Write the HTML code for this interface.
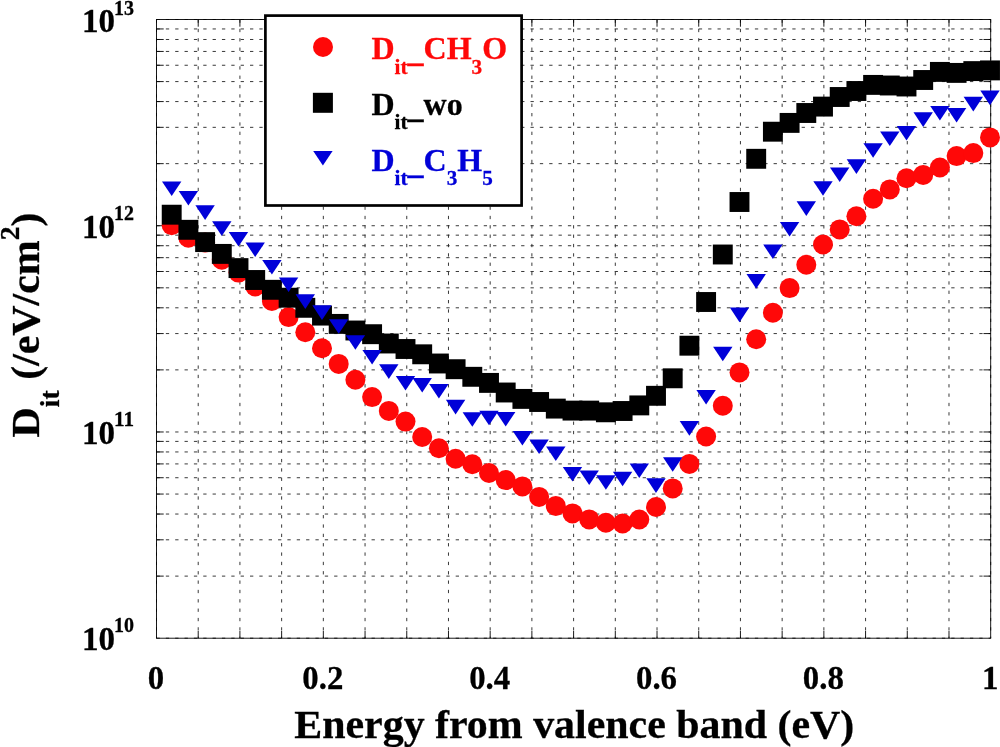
<!DOCTYPE html>
<html lang="en"><head><meta charset="utf-8"><title>Dit vs energy from valence band</title>
<style>html,body{margin:0;padding:0;background:#fff}body{width:1000px;height:747px;overflow:hidden}svg{display:block}text{font-family:"Liberation Serif",serif;font-weight:bold}</style>
</head><body>
<svg width="1000" height="747" viewBox="0 0 1000 747">
<rect x="0" y="0" width="1000" height="747" fill="#fff"/>
<g stroke="#222" stroke-width="0.9" stroke-dasharray="3.3 6.05" fill="none">
<line x1="156.50" y1="19.5" x2="156.50" y2="638.2"/>
<line x1="198.21" y1="19.5" x2="198.21" y2="638.2"/>
<line x1="239.92" y1="19.5" x2="239.92" y2="638.2"/>
<line x1="281.63" y1="19.5" x2="281.63" y2="638.2"/>
<line x1="323.34" y1="19.5" x2="323.34" y2="638.2"/>
<line x1="365.05" y1="19.5" x2="365.05" y2="638.2"/>
<line x1="406.76" y1="19.5" x2="406.76" y2="638.2"/>
<line x1="448.47" y1="19.5" x2="448.47" y2="638.2"/>
<line x1="490.18" y1="19.5" x2="490.18" y2="638.2"/>
<line x1="531.89" y1="19.5" x2="531.89" y2="638.2"/>
<line x1="573.60" y1="19.5" x2="573.60" y2="638.2"/>
<line x1="615.31" y1="19.5" x2="615.31" y2="638.2"/>
<line x1="657.02" y1="19.5" x2="657.02" y2="638.2"/>
<line x1="698.73" y1="19.5" x2="698.73" y2="638.2"/>
<line x1="740.44" y1="19.5" x2="740.44" y2="638.2"/>
<line x1="782.15" y1="19.5" x2="782.15" y2="638.2"/>
<line x1="823.86" y1="19.5" x2="823.86" y2="638.2"/>
<line x1="865.57" y1="19.5" x2="865.57" y2="638.2"/>
<line x1="907.28" y1="19.5" x2="907.28" y2="638.2"/>
<line x1="948.99" y1="19.5" x2="948.99" y2="638.2"/>
<line x1="990.70" y1="19.5" x2="990.70" y2="638.2"/>
<line x1="156.5" y1="638.20" x2="990.7" y2="638.20"/>
<line x1="156.5" y1="576.12" x2="990.7" y2="576.12"/>
<line x1="156.5" y1="539.80" x2="990.7" y2="539.80"/>
<line x1="156.5" y1="514.04" x2="990.7" y2="514.04"/>
<line x1="156.5" y1="494.05" x2="990.7" y2="494.05"/>
<line x1="156.5" y1="477.72" x2="990.7" y2="477.72"/>
<line x1="156.5" y1="463.91" x2="990.7" y2="463.91"/>
<line x1="156.5" y1="451.95" x2="990.7" y2="451.95"/>
<line x1="156.5" y1="441.40" x2="990.7" y2="441.40"/>
<line x1="156.5" y1="431.97" x2="990.7" y2="431.97"/>
<line x1="156.5" y1="369.88" x2="990.7" y2="369.88"/>
<line x1="156.5" y1="333.57" x2="990.7" y2="333.57"/>
<line x1="156.5" y1="307.80" x2="990.7" y2="307.80"/>
<line x1="156.5" y1="287.82" x2="990.7" y2="287.82"/>
<line x1="156.5" y1="271.49" x2="990.7" y2="271.49"/>
<line x1="156.5" y1="257.68" x2="990.7" y2="257.68"/>
<line x1="156.5" y1="245.72" x2="990.7" y2="245.72"/>
<line x1="156.5" y1="235.17" x2="990.7" y2="235.17"/>
<line x1="156.5" y1="225.73" x2="990.7" y2="225.73"/>
<line x1="156.5" y1="163.65" x2="990.7" y2="163.65"/>
<line x1="156.5" y1="127.34" x2="990.7" y2="127.34"/>
<line x1="156.5" y1="101.57" x2="990.7" y2="101.57"/>
<line x1="156.5" y1="81.58" x2="990.7" y2="81.58"/>
<line x1="156.5" y1="65.25" x2="990.7" y2="65.25"/>
<line x1="156.5" y1="51.45" x2="990.7" y2="51.45"/>
<line x1="156.5" y1="39.49" x2="990.7" y2="39.49"/>
<line x1="156.5" y1="28.94" x2="990.7" y2="28.94"/>
<line x1="156.5" y1="19.5" x2="990.7" y2="19.5"/>
</g>
<g stroke="#000" stroke-width="0.9" fill="none">
<rect x="156.5" y="19.5" width="834.20" height="618.70"/>
<line x1="198.21" y1="638.2" x2="198.21" y2="631.0"/>
<line x1="198.21" y1="19.5" x2="198.21" y2="26.7"/>
<line x1="239.92" y1="638.2" x2="239.92" y2="631.0"/>
<line x1="239.92" y1="19.5" x2="239.92" y2="26.7"/>
<line x1="281.63" y1="638.2" x2="281.63" y2="631.0"/>
<line x1="281.63" y1="19.5" x2="281.63" y2="26.7"/>
<line x1="323.34" y1="638.2" x2="323.34" y2="631.0"/>
<line x1="323.34" y1="19.5" x2="323.34" y2="26.7"/>
<line x1="365.05" y1="638.2" x2="365.05" y2="631.0"/>
<line x1="365.05" y1="19.5" x2="365.05" y2="26.7"/>
<line x1="406.76" y1="638.2" x2="406.76" y2="631.0"/>
<line x1="406.76" y1="19.5" x2="406.76" y2="26.7"/>
<line x1="448.47" y1="638.2" x2="448.47" y2="631.0"/>
<line x1="448.47" y1="19.5" x2="448.47" y2="26.7"/>
<line x1="490.18" y1="638.2" x2="490.18" y2="631.0"/>
<line x1="490.18" y1="19.5" x2="490.18" y2="26.7"/>
<line x1="531.89" y1="638.2" x2="531.89" y2="631.0"/>
<line x1="531.89" y1="19.5" x2="531.89" y2="26.7"/>
<line x1="573.60" y1="638.2" x2="573.60" y2="631.0"/>
<line x1="573.60" y1="19.5" x2="573.60" y2="26.7"/>
<line x1="615.31" y1="638.2" x2="615.31" y2="631.0"/>
<line x1="615.31" y1="19.5" x2="615.31" y2="26.7"/>
<line x1="657.02" y1="638.2" x2="657.02" y2="631.0"/>
<line x1="657.02" y1="19.5" x2="657.02" y2="26.7"/>
<line x1="698.73" y1="638.2" x2="698.73" y2="631.0"/>
<line x1="698.73" y1="19.5" x2="698.73" y2="26.7"/>
<line x1="740.44" y1="638.2" x2="740.44" y2="631.0"/>
<line x1="740.44" y1="19.5" x2="740.44" y2="26.7"/>
<line x1="782.15" y1="638.2" x2="782.15" y2="631.0"/>
<line x1="782.15" y1="19.5" x2="782.15" y2="26.7"/>
<line x1="823.86" y1="638.2" x2="823.86" y2="631.0"/>
<line x1="823.86" y1="19.5" x2="823.86" y2="26.7"/>
<line x1="865.57" y1="638.2" x2="865.57" y2="631.0"/>
<line x1="865.57" y1="19.5" x2="865.57" y2="26.7"/>
<line x1="907.28" y1="638.2" x2="907.28" y2="631.0"/>
<line x1="907.28" y1="19.5" x2="907.28" y2="26.7"/>
<line x1="948.99" y1="638.2" x2="948.99" y2="631.0"/>
<line x1="948.99" y1="19.5" x2="948.99" y2="26.7"/>
<line x1="156.5" y1="576.12" x2="163.7" y2="576.12"/>
<line x1="990.7" y1="576.12" x2="983.5" y2="576.12"/>
<line x1="156.5" y1="539.80" x2="163.7" y2="539.80"/>
<line x1="990.7" y1="539.80" x2="983.5" y2="539.80"/>
<line x1="156.5" y1="514.04" x2="163.7" y2="514.04"/>
<line x1="990.7" y1="514.04" x2="983.5" y2="514.04"/>
<line x1="156.5" y1="494.05" x2="163.7" y2="494.05"/>
<line x1="990.7" y1="494.05" x2="983.5" y2="494.05"/>
<line x1="156.5" y1="477.72" x2="163.7" y2="477.72"/>
<line x1="990.7" y1="477.72" x2="983.5" y2="477.72"/>
<line x1="156.5" y1="463.91" x2="163.7" y2="463.91"/>
<line x1="990.7" y1="463.91" x2="983.5" y2="463.91"/>
<line x1="156.5" y1="451.95" x2="163.7" y2="451.95"/>
<line x1="990.7" y1="451.95" x2="983.5" y2="451.95"/>
<line x1="156.5" y1="441.40" x2="163.7" y2="441.40"/>
<line x1="990.7" y1="441.40" x2="983.5" y2="441.40"/>
<line x1="156.5" y1="431.97" x2="163.7" y2="431.97"/>
<line x1="990.7" y1="431.97" x2="983.5" y2="431.97"/>
<line x1="156.5" y1="369.88" x2="163.7" y2="369.88"/>
<line x1="990.7" y1="369.88" x2="983.5" y2="369.88"/>
<line x1="156.5" y1="333.57" x2="163.7" y2="333.57"/>
<line x1="990.7" y1="333.57" x2="983.5" y2="333.57"/>
<line x1="156.5" y1="307.80" x2="163.7" y2="307.80"/>
<line x1="990.7" y1="307.80" x2="983.5" y2="307.80"/>
<line x1="156.5" y1="287.82" x2="163.7" y2="287.82"/>
<line x1="990.7" y1="287.82" x2="983.5" y2="287.82"/>
<line x1="156.5" y1="271.49" x2="163.7" y2="271.49"/>
<line x1="990.7" y1="271.49" x2="983.5" y2="271.49"/>
<line x1="156.5" y1="257.68" x2="163.7" y2="257.68"/>
<line x1="990.7" y1="257.68" x2="983.5" y2="257.68"/>
<line x1="156.5" y1="245.72" x2="163.7" y2="245.72"/>
<line x1="990.7" y1="245.72" x2="983.5" y2="245.72"/>
<line x1="156.5" y1="235.17" x2="163.7" y2="235.17"/>
<line x1="990.7" y1="235.17" x2="983.5" y2="235.17"/>
<line x1="156.5" y1="225.73" x2="163.7" y2="225.73"/>
<line x1="990.7" y1="225.73" x2="983.5" y2="225.73"/>
<line x1="156.5" y1="163.65" x2="163.7" y2="163.65"/>
<line x1="990.7" y1="163.65" x2="983.5" y2="163.65"/>
<line x1="156.5" y1="127.34" x2="163.7" y2="127.34"/>
<line x1="990.7" y1="127.34" x2="983.5" y2="127.34"/>
<line x1="156.5" y1="101.57" x2="163.7" y2="101.57"/>
<line x1="990.7" y1="101.57" x2="983.5" y2="101.57"/>
<line x1="156.5" y1="81.58" x2="163.7" y2="81.58"/>
<line x1="990.7" y1="81.58" x2="983.5" y2="81.58"/>
<line x1="156.5" y1="65.25" x2="163.7" y2="65.25"/>
<line x1="990.7" y1="65.25" x2="983.5" y2="65.25"/>
<line x1="156.5" y1="51.45" x2="163.7" y2="51.45"/>
<line x1="990.7" y1="51.45" x2="983.5" y2="51.45"/>
<line x1="156.5" y1="39.49" x2="163.7" y2="39.49"/>
<line x1="990.7" y1="39.49" x2="983.5" y2="39.49"/>
<line x1="156.5" y1="28.94" x2="163.7" y2="28.94"/>
<line x1="990.7" y1="28.94" x2="983.5" y2="28.94"/>
</g>
<g fill="#ff0808">
<circle cx="171.70" cy="225.20" r="10.0"/>
<circle cx="188.40" cy="237.70" r="10.0"/>
<circle cx="205.10" cy="242.50" r="10.0"/>
<circle cx="221.80" cy="259.70" r="10.0"/>
<circle cx="238.50" cy="272.60" r="10.0"/>
<circle cx="255.20" cy="286.50" r="10.0"/>
<circle cx="271.90" cy="301.00" r="10.0"/>
<circle cx="288.60" cy="317.10" r="10.0"/>
<circle cx="305.30" cy="332.20" r="10.0"/>
<circle cx="322.00" cy="348.30" r="10.0"/>
<circle cx="338.70" cy="363.90" r="10.0"/>
<circle cx="355.40" cy="379.80" r="10.0"/>
<circle cx="372.10" cy="397.10" r="10.0"/>
<circle cx="388.80" cy="410.90" r="10.0"/>
<circle cx="405.50" cy="421.60" r="10.0"/>
<circle cx="422.20" cy="437.00" r="10.0"/>
<circle cx="438.90" cy="448.20" r="10.0"/>
<circle cx="455.60" cy="458.70" r="10.0"/>
<circle cx="472.30" cy="464.30" r="10.0"/>
<circle cx="489.00" cy="473.00" r="10.0"/>
<circle cx="505.70" cy="480.10" r="10.0"/>
<circle cx="522.40" cy="486.40" r="10.0"/>
<circle cx="539.10" cy="496.90" r="10.0"/>
<circle cx="555.80" cy="505.90" r="10.0"/>
<circle cx="572.50" cy="513.40" r="10.0"/>
<circle cx="589.20" cy="519.40" r="10.0"/>
<circle cx="605.90" cy="522.80" r="10.0"/>
<circle cx="622.60" cy="523.50" r="10.0"/>
<circle cx="639.30" cy="519.50" r="10.0"/>
<circle cx="656.00" cy="507.00" r="10.0"/>
<circle cx="672.70" cy="488.40" r="10.0"/>
<circle cx="689.40" cy="463.90" r="10.0"/>
<circle cx="706.10" cy="436.50" r="10.0"/>
<circle cx="722.80" cy="405.80" r="10.0"/>
<circle cx="739.50" cy="372.40" r="10.0"/>
<circle cx="756.20" cy="339.30" r="10.0"/>
<circle cx="772.90" cy="312.80" r="10.0"/>
<circle cx="789.60" cy="288.10" r="10.0"/>
<circle cx="806.30" cy="264.70" r="10.0"/>
<circle cx="823.00" cy="244.50" r="10.0"/>
<circle cx="839.70" cy="229.40" r="10.0"/>
<circle cx="856.40" cy="216.30" r="10.0"/>
<circle cx="873.10" cy="198.70" r="10.0"/>
<circle cx="889.80" cy="189.40" r="10.0"/>
<circle cx="906.50" cy="178.20" r="10.0"/>
<circle cx="923.20" cy="174.90" r="10.0"/>
<circle cx="939.90" cy="167.50" r="10.0"/>
<circle cx="956.60" cy="156.10" r="10.0"/>
<circle cx="973.30" cy="153.10" r="10.0"/>
<circle cx="990.00" cy="137.40" r="10.0"/>
</g>
<g fill="#000">
<rect x="161.75" y="204.75" width="19.9" height="19.9"/>
<rect x="178.45" y="219.85" width="19.9" height="19.9"/>
<rect x="195.15" y="232.15" width="19.9" height="19.9"/>
<rect x="211.85" y="243.95" width="19.9" height="19.9"/>
<rect x="228.55" y="258.15" width="19.9" height="19.9"/>
<rect x="245.25" y="270.05" width="19.9" height="19.9"/>
<rect x="261.95" y="279.85" width="19.9" height="19.9"/>
<rect x="278.65" y="287.75" width="19.9" height="19.9"/>
<rect x="295.35" y="297.85" width="19.9" height="19.9"/>
<rect x="312.05" y="305.65" width="19.9" height="19.9"/>
<rect x="328.75" y="313.95" width="19.9" height="19.9"/>
<rect x="345.45" y="320.55" width="19.9" height="19.9"/>
<rect x="362.15" y="324.25" width="19.9" height="19.9"/>
<rect x="378.85" y="333.55" width="19.9" height="19.9"/>
<rect x="395.55" y="339.05" width="19.9" height="19.9"/>
<rect x="412.25" y="344.35" width="19.9" height="19.9"/>
<rect x="428.95" y="353.55" width="19.9" height="19.9"/>
<rect x="445.65" y="359.25" width="19.9" height="19.9"/>
<rect x="462.35" y="366.85" width="19.9" height="19.9"/>
<rect x="479.05" y="372.95" width="19.9" height="19.9"/>
<rect x="495.75" y="382.55" width="19.9" height="19.9"/>
<rect x="512.45" y="388.95" width="19.9" height="19.9"/>
<rect x="529.15" y="392.05" width="19.9" height="19.9"/>
<rect x="545.85" y="398.65" width="19.9" height="19.9"/>
<rect x="562.55" y="400.65" width="19.9" height="19.9"/>
<rect x="579.25" y="400.65" width="19.9" height="19.9"/>
<rect x="595.95" y="402.35" width="19.9" height="19.9"/>
<rect x="612.65" y="401.05" width="19.9" height="19.9"/>
<rect x="629.35" y="395.45" width="19.9" height="19.9"/>
<rect x="646.05" y="385.85" width="19.9" height="19.9"/>
<rect x="662.75" y="368.35" width="19.9" height="19.9"/>
<rect x="679.45" y="335.75" width="19.9" height="19.9"/>
<rect x="696.15" y="292.05" width="19.9" height="19.9"/>
<rect x="712.85" y="244.55" width="19.9" height="19.9"/>
<rect x="729.55" y="192.05" width="19.9" height="19.9"/>
<rect x="746.25" y="148.85" width="19.9" height="19.9"/>
<rect x="762.95" y="121.75" width="19.9" height="19.9"/>
<rect x="779.65" y="112.95" width="19.9" height="19.9"/>
<rect x="796.35" y="103.05" width="19.9" height="19.9"/>
<rect x="813.05" y="96.65" width="19.9" height="19.9"/>
<rect x="829.75" y="87.05" width="19.9" height="19.9"/>
<rect x="846.45" y="81.05" width="19.9" height="19.9"/>
<rect x="863.15" y="74.95" width="19.9" height="19.9"/>
<rect x="879.85" y="75.55" width="19.9" height="19.9"/>
<rect x="896.55" y="76.55" width="19.9" height="19.9"/>
<rect x="913.25" y="70.05" width="19.9" height="19.9"/>
<rect x="929.95" y="61.95" width="19.9" height="19.9"/>
<rect x="946.65" y="62.95" width="19.9" height="19.9"/>
<rect x="963.35" y="61.15" width="19.9" height="19.9"/>
<rect x="980.05" y="60.45" width="19.9" height="19.9"/>
</g>
<g fill="#0000d8">
<polygon points="162.00,181.40 181.40,181.40 171.70,196.00"/>
<polygon points="178.70,191.00 198.10,191.00 188.40,205.60"/>
<polygon points="195.40,205.30 214.80,205.30 205.10,219.90"/>
<polygon points="212.10,221.30 231.50,221.30 221.80,235.90"/>
<polygon points="228.80,231.90 248.20,231.90 238.50,246.50"/>
<polygon points="245.50,242.40 264.90,242.40 255.20,257.00"/>
<polygon points="262.20,259.90 281.60,259.90 271.90,274.50"/>
<polygon points="278.90,277.40 298.30,277.40 288.60,292.00"/>
<polygon points="295.60,294.30 315.00,294.30 305.30,308.90"/>
<polygon points="312.30,305.30 331.70,305.30 322.00,319.90"/>
<polygon points="329.00,319.20 348.40,319.20 338.70,333.80"/>
<polygon points="345.70,335.20 365.10,335.20 355.40,349.80"/>
<polygon points="362.40,349.90 381.80,349.90 372.10,364.50"/>
<polygon points="379.10,364.30 398.50,364.30 388.80,378.90"/>
<polygon points="395.80,376.00 415.20,376.00 405.50,390.60"/>
<polygon points="412.50,378.00 431.90,378.00 422.20,392.60"/>
<polygon points="429.20,384.00 448.60,384.00 438.90,398.60"/>
<polygon points="445.90,399.80 465.30,399.80 455.60,414.40"/>
<polygon points="462.60,412.20 482.00,412.20 472.30,426.80"/>
<polygon points="479.30,410.70 498.70,410.70 489.00,425.30"/>
<polygon points="496.00,411.90 515.40,411.90 505.70,426.50"/>
<polygon points="512.70,431.00 532.10,431.00 522.40,445.60"/>
<polygon points="529.40,439.40 548.80,439.40 539.10,454.00"/>
<polygon points="546.10,446.40 565.50,446.40 555.80,461.00"/>
<polygon points="562.80,466.90 582.20,466.90 572.50,481.50"/>
<polygon points="579.50,470.40 598.90,470.40 589.20,485.00"/>
<polygon points="596.20,475.20 615.60,475.20 605.90,489.80"/>
<polygon points="612.90,471.70 632.30,471.70 622.60,486.30"/>
<polygon points="629.60,463.40 649.00,463.40 639.30,478.00"/>
<polygon points="646.30,478.30 665.70,478.30 656.00,492.90"/>
<polygon points="663.00,457.20 682.40,457.20 672.70,471.80"/>
<polygon points="679.70,421.10 699.10,421.10 689.40,435.70"/>
<polygon points="696.40,390.00 715.80,390.00 706.10,404.60"/>
<polygon points="713.10,346.70 732.50,346.70 722.80,361.30"/>
<polygon points="729.80,307.60 749.20,307.60 739.50,322.20"/>
<polygon points="746.50,274.10 765.90,274.10 756.20,288.70"/>
<polygon points="763.20,244.50 782.60,244.50 772.90,259.10"/>
<polygon points="779.90,222.00 799.30,222.00 789.60,236.60"/>
<polygon points="796.60,201.30 816.00,201.30 806.30,215.90"/>
<polygon points="813.30,181.20 832.70,181.20 823.00,195.80"/>
<polygon points="830.00,167.50 849.40,167.50 839.70,182.10"/>
<polygon points="846.70,159.30 866.10,159.30 856.40,173.90"/>
<polygon points="863.40,143.20 882.80,143.20 873.10,157.80"/>
<polygon points="880.10,131.50 899.50,131.50 889.80,146.10"/>
<polygon points="896.80,125.90 916.20,125.90 906.50,140.50"/>
<polygon points="913.50,112.30 932.90,112.30 923.20,126.90"/>
<polygon points="930.20,105.90 949.60,105.90 939.90,120.50"/>
<polygon points="946.90,107.90 966.30,107.90 956.60,122.50"/>
<polygon points="963.60,96.80 983.00,96.80 973.30,111.40"/>
<polygon points="980.30,90.60 999.70,90.60 990.00,105.20"/>
</g>
<rect x="265.4" y="15.6" width="256.2" height="189.9" fill="#fff" stroke="#000" stroke-width="2.7"/>
<circle cx="323" cy="47" r="10" fill="#ff0808"/>
<rect x="312.9" y="92.8" width="20" height="20" fill="#000"/>
<polygon points="313.2,151 332.6,151 322.9,165.5" fill="#0000d8"/>
<text x="371.5" y="58.8" font-size="32" fill="#ff0808" stroke="#ff0808" stroke-width="0.3"><tspan dy="0" font-size="32">D</tspan><tspan dy="14.8" font-size="21.2">it</tspan><tspan dy="-11.600000000000001" font-size="32">_</tspan><tspan dy="-3.2" font-size="32">CH</tspan><tspan dy="14.8" font-size="21.2">3</tspan><tspan dy="-14.8" font-size="32">O</tspan></text>
<text x="371.5" y="114.6" font-size="32" fill="#000" stroke="#000" stroke-width="0.3"><tspan dy="0" font-size="32">D</tspan><tspan dy="14.8" font-size="21.2">it</tspan><tspan dy="-11.600000000000001" font-size="32">_</tspan><tspan dy="-3.2" font-size="32">wo</tspan></text>
<text x="371.5" y="170.5" font-size="32" fill="#0000d8" stroke="#0000d8" stroke-width="0.3"><tspan dy="0" font-size="32">D</tspan><tspan dy="14.8" font-size="21.2">it</tspan><tspan dy="-11.600000000000001" font-size="32">_</tspan><tspan dy="-3.2" font-size="32">C</tspan><tspan dy="14.8" font-size="21.2">3</tspan><tspan dy="-14.8" font-size="32">H</tspan><tspan dy="14.8" font-size="21.2">5</tspan></text>
<text x="81.9" y="31.80" font-size="33" fill="#000" stroke="#000" stroke-width="0.3">10<tspan dy="-17.2" dx="-0.8" font-size="21" textLength="20" lengthAdjust="spacingAndGlyphs">13</tspan></text>
<text x="81.9" y="237.60" font-size="33" fill="#000" stroke="#000" stroke-width="0.3">10<tspan dy="-17.2" dx="-0.8" font-size="21" textLength="20" lengthAdjust="spacingAndGlyphs">12</tspan></text>
<text x="81.9" y="443.50" font-size="33" fill="#000" stroke="#000" stroke-width="0.3">10<tspan dy="-17.2" dx="-0.8" font-size="21" textLength="20" lengthAdjust="spacingAndGlyphs">11</tspan></text>
<text x="81.9" y="649.50" font-size="33" fill="#000" stroke="#000" stroke-width="0.3">10<tspan dy="-17.2" dx="-0.8" font-size="21" textLength="20" lengthAdjust="spacingAndGlyphs">10</tspan></text>
<text x="156.00" y="689.1" font-size="32.8" fill="#000" stroke="#000" stroke-width="0.3" text-anchor="middle">0</text>
<text x="322.84" y="689.1" font-size="32.8" fill="#000" stroke="#000" stroke-width="0.3" text-anchor="middle">0.2</text>
<text x="489.68" y="689.1" font-size="32.8" fill="#000" stroke="#000" stroke-width="0.3" text-anchor="middle">0.4</text>
<text x="656.52" y="689.1" font-size="32.8" fill="#000" stroke="#000" stroke-width="0.3" text-anchor="middle">0.6</text>
<text x="823.36" y="689.1" font-size="32.8" fill="#000" stroke="#000" stroke-width="0.3" text-anchor="middle">0.8</text>
<text x="990.20" y="689.1" font-size="32.8" fill="#000" stroke="#000" stroke-width="0.3" text-anchor="middle">1</text>
<text transform="translate(294.3,737.6) scale(1.022,1)" font-size="41" fill="#000" stroke="#000" stroke-width="0.3">Energy from valence band (eV)</text>
<text transform="translate(38.8,437.4) rotate(-90) scale(1.022,1)" font-size="41" fill="#000" stroke="#000" stroke-width="0.3">D<tspan dy="20" font-size="27">it</tspan><tspan dy="-20" font-size="41"> (/eV/cm</tspan><tspan dy="-19.8" font-size="27">2</tspan><tspan dy="19.8" font-size="41">)</tspan></text>
</svg></body></html>
